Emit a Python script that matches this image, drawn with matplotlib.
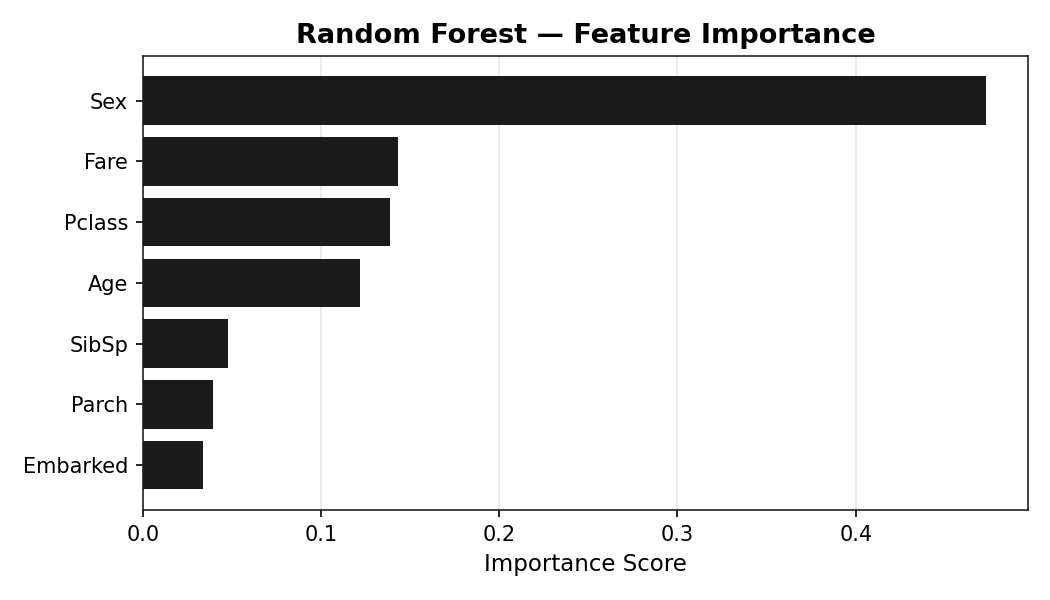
import matplotlib
matplotlib.use("Agg")
import matplotlib.pyplot as plt

# feature importances (top to bottom)
features = ["Sex", "Fare", "Pclass", "Age", "SibSp", "Parch", "Embarked"]
importances = [0.473, 0.1433, 0.1388, 0.1219, 0.0478, 0.0393, 0.0337]

fig, ax = plt.subplots(figsize=(7, 4), dpi=150)

# barh draws from bottom, so reverse to keep Sex on top
ax.barh(features[::-1], importances[::-1], color="#1b1b1b", height=0.8, zorder=3)

ax.set_xlim(left=0)
ax.grid(axis="x", color="#e6e6e6", linewidth=0.8, zorder=0)
ax.set_axisbelow(True)
for spine in ax.spines.values():
    spine.set_color("#222222")

ax.set_title("Random Forest — Feature Importance", fontsize=13, fontweight="bold")
ax.set_xlabel("Importance Score", fontsize=11)
ax.tick_params(labelsize=10)

fig.subplots_adjust(left=0.136, right=0.979, top=0.907, bottom=0.15)
fig.savefig("out.png", dpi=150)
